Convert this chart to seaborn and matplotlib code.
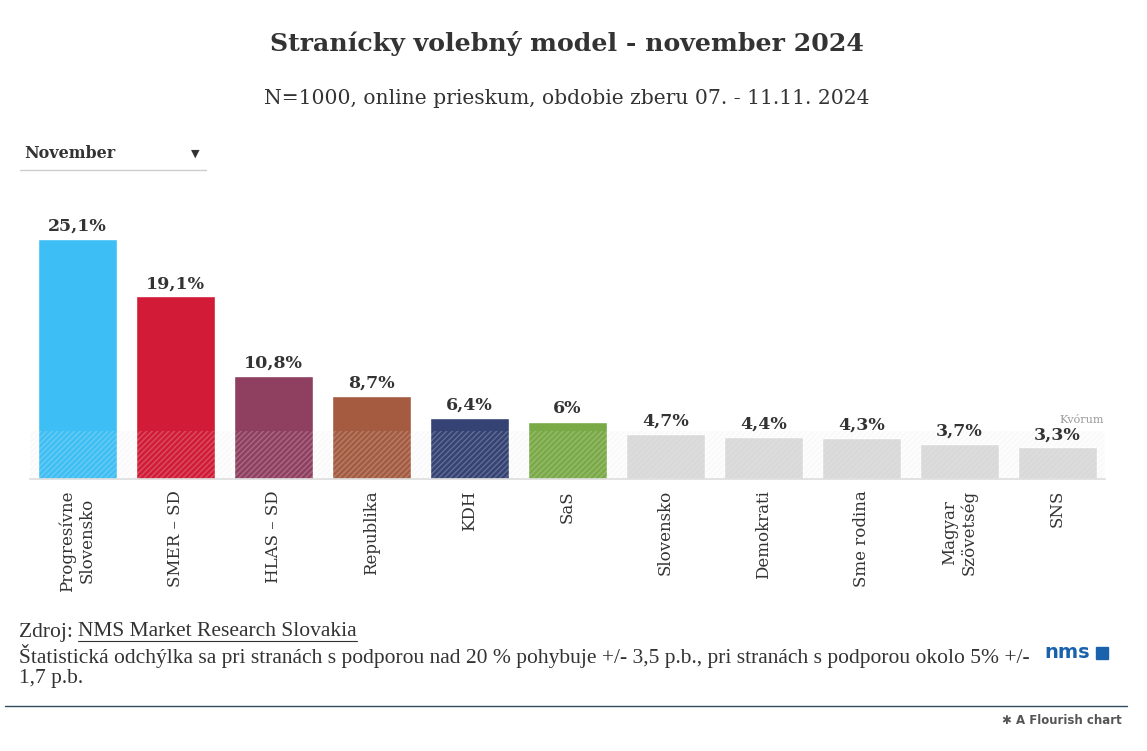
#!/usr/bin/env python3
"""Party poll bar chart (NMS, November 2024)."""
import matplotlib
matplotlib.use("Agg")
import matplotlib.pyplot as plt
import pandas as pd
import seaborn as sns

PARTIES = [
    "Progresívne\nSlovensko", "SMER – SD", "HLAS – SD", "Republika", "KDH", "SaS",
    "Slovensko", "Demokrati", "Sme rodina", "Magyar\nSzövetség", "SNS",
]
VALUES = [25.1, 19.1, 10.8, 8.7, 6.4, 6.0, 4.7, 4.4, 4.3, 3.7, 3.3]
COLORS = [
    "#3dbff5", "#d21b36", "#8f3f60", "#a45b40", "#344274", "#79aa45",
    "#d9d9d9", "#d9d9d9", "#d9d9d9", "#d9d9d9", "#d9d9d9",
]
QUORUM = 5.0

TITLE = "Stranícky volebný model - november 2024"
SUBTITLE = "N=1000, online prieskum, obdobie zberu 07. - 11.11. 2024"
NOTE = ("Štatistická odchýlka sa pri stranách s podporou nad 20 % pohybuje +/- 3,5 p.b., "
        "pri stranách s podporou okolo 5% +/-\n1,7 p.b.")


def fmt(v):
    s = f"{v:.1f}".replace(".", ",")
    return (s[:-2] if s.endswith(",0") else s) + "%"


def main():
    sns.set_theme(style="white")
    plt.rcParams["font.family"] = ["DejaVu Serif"]
    plt.rcParams["hatch.linewidth"] = 1.0

    df = pd.DataFrame({"party": PARTIES, "value": VALUES})
    W, H = 1147, 751
    fig = plt.figure(figsize=(W / 100, H / 100), dpi=100)
    ppu = 240 / 25.1
    top = 26.0
    ax = fig.add_axes([30 / W, 272 / H, 1075 / W, top * ppu / H])

    sns.barplot(data=df, x="party", y="value", hue="party", palette=COLORS,
                legend=False, width=0.806, ax=ax, saturation=1, zorder=2)
    ax.set_xlim(-0.485, 10.485)
    ax.set_ylim(0, top)
    ax.set_yticks([])
    ax.set_xlabel("")
    ax.set_ylabel("")
    for s in ["top", "left", "right"]:
        ax.spines[s].set_visible(False)
    ax.spines["bottom"].set_color("#dddddd")
    ax.spines["bottom"].set_linewidth(1.2)
    ax.tick_params(axis="x", length=10, width=1, color="#dddddd", pad=-2,
                   labelsize=12, labelcolor="#333333")
    ax.set_xticks(range(len(PARTIES)))
    ax.set_xticklabels(PARTIES, rotation=90, va="top", ha="center",
                       multialignment="center")

    # quorum band
    ax.axhspan(0, QUORUM, facecolor=(1, 1, 1, 0.0),
               edgecolor=(0.92, 0.92, 0.92, 0.25), hatch="//////",
               linewidth=0, zorder=3)
    ax.axhspan(0, QUORUM, facecolor=(0.96, 0.96, 0.96, 0.12), linewidth=0,
               zorder=1)
    ax.text(10.47, QUORUM + 0.6, "Kvórum", ha="right", va="bottom",
            fontsize=8, color="#999999")

    for i, v in enumerate(VALUES):
        ax.annotate(fmt(v), (i, v), xytext=(0, 3), textcoords="offset points",
                    ha="center", va="bottom", fontsize=12.5, fontweight="bold",
                    color="#333333", zorder=5)

    fig.text(567 / W, 1 - 43 / H, TITLE, ha="center", va="center",
             fontsize=18.2, fontweight="bold", color="#333333")
    fig.text(567 / W, 1 - 99 / H, SUBTITLE, ha="center", va="center",
             fontsize=14.6, color="#333333")

    # dropdown
    fig.text(24 / W, 1 - 153 / H, "November", ha="left", va="center",
             fontsize=11.5, fontweight="bold", color="#333333")
    fig.text(195 / W, 1 - 154 / H, "▼", ha="center", va="center",
             fontsize=8, color="#333333", family="DejaVu Sans")
    fig.add_artist(plt.Line2D([20 / W, 206 / W], [1 - 170 / H] * 2,
                              color="#cccccc", lw=1))

    # footer
    fs = 15.5
    t1 = fig.text(19 / W, 1 - 632 / H, "Zdroj: ", ha="left", va="center",
                  fontsize=fs, color="#333333", family="Liberation Serif")
    fig.canvas.draw()
    r = fig.canvas.get_renderer()
    bb = t1.get_window_extent(r)
    t2 = fig.text(bb.x1 / W, 1 - 632 / H, "NMS Market Research Slovakia",
                  ha="left", va="center", fontsize=fs, color="#333333",
                  family="Liberation Serif")
    fig.canvas.draw()
    bb2 = t2.get_window_extent(r)
    fig.add_artist(plt.Line2D([bb2.x0 / W, bb2.x1 / W], [(bb2.y0 + 1) / H] * 2,
                              color="#333333", lw=0.8))
    fig.text(19 / W, 1 - 644 / H, NOTE, ha="left", va="top", fontsize=fs,
             color="#333333", family="Liberation Serif", linespacing=1.05)

    fig.text(1090 / W, 1 - 652 / H, "nms", ha="right", va="center",
             fontsize=14, fontweight="bold", color="#1b62ad", family="DejaVu Sans")
    fig.patches.append(plt.Rectangle((1096 / W, 1 - 659 / H), 12 / W, 12 / H,
                                     transform=fig.transFigure, color="#1b62ad"))

    fig.add_artist(plt.Line2D([5 / W, 1127 / W], [1 - 706 / H] * 2,
                              color="#2f4b5e", lw=1))
    fig.text(1122 / W, 1 - 720 / H, "✱ A Flourish chart", ha="right",
             va="center", fontsize=8.5, fontweight="bold", color="#555555",
             family="DejaVu Sans")

    fig.savefig("out.png", dpi=100)


if __name__ == "__main__":
    main()
